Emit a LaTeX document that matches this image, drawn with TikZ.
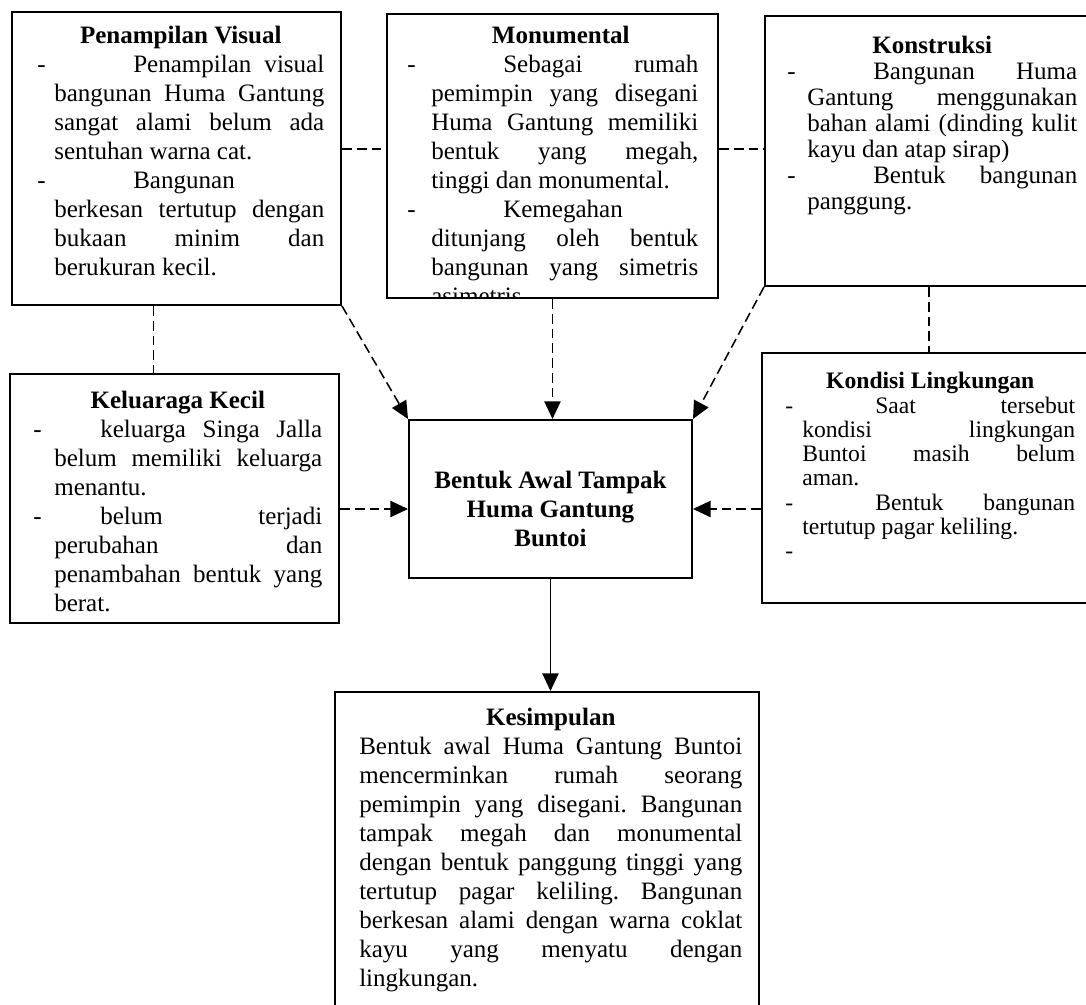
\documentclass[tikz,border=0pt]{standalone}
\usepackage{fontspec}
\setmainfont{Liberation Serif}
\usetikzlibrary{arrows.meta,calc}
\newlength\piks
\setlength\piks{0.025cm}
\tolerance=9999
\hbadness=10000
\hyphenpenalty=10000
\frenchspacing
% judul kotak dan butir berderet
\newcommand{\judul}[1]{{\centering\noindent\textbf{#1}\par}}
\newcommand{\butir}[3]{\par{\leftskip=#1\noindent\llap{\makebox[#1][l]{-}}\hspace*{#2}#3\par}}
\begin{document}
\begin{tikzpicture}[x=0.025cm, y=-0.025cm,
    bingkai/.style={draw, line width=1.4pt, inner sep=0pt, anchor=north west},
    isi/.style={inner sep=0pt, anchor=north west, align=justify,
                font=\fontsize{17.8}{20.6}\selectfont},
    putus/.style={line width=1.1pt, dash pattern=on 7pt off 3.5pt},
    ujung/.style={-{Triangle[length=12.5pt,width=11.5pt]}}]
  \fill[white] (0,0) rectangle (1086,1005);
  \useasboundingbox (0,0) rectangle (1086,1005);

  % bingkai
  \node[bingkai, minimum width=329\piks, minimum height=293\piks] (pv) at (11,11) {};
  \node[bingkai, minimum width=331\piks, minimum height=284\piks] (mon) at (386,13) {};
  \node[bingkai, minimum width=328\piks, minimum height=270\piks] (kon) at (764,15) {};
  \node[bingkai, minimum width=329\piks, minimum height=249\piks] (kel) at (9,373) {};
  \node[bingkai, minimum width=283\piks, minimum height=158\piks] (pusat) at (408,419) {};
  \node[bingkai, minimum width=334\piks, minimum height=250\piks] (kond) at (761,352) {};
  \node[bingkai, minimum width=424\piks, minimum height=350\piks] (kes) at (334,691) {};

  % isi
  \node[isi, text width=287\piks] (pvisi) at (37,26) {\judul{Penampilan Visual}
    \butir{17\piks}{79\piks}{Penampilan visual\linebreak bangunan Huma Gantung\linebreak sangat alami belum ada\linebreak sentuhan warna cat.}
    \butir{17\piks}{79\piks}{Bangunan\newline berkesan tertutup dengan\linebreak bukaan minim dan\linebreak berukuran kecil.}};
  \begin{scope}
    \clip (mon.north west) rectangle (mon.south east);
    \node[isi, text width=291\piks] (monisi) at (407,26) {\judul{\hspace*{16\piks}Monumental}
      \butir{24\piks}{72\piks}{Sebagai rumah\linebreak pemimpin yang disegani\linebreak Huma Gantung memiliki\linebreak bentuk yang megah,\linebreak tinggi dan monumental.}
      \butir{24\piks}{72\piks}{Kemegahan\newline ditunjang oleh bentuk\linebreak bangunan yang simetris\linebreak asimetris}};
  \end{scope}
  \node[isi, text width=290\piks, font=\fontsize{17.8}{18.5}\selectfont] (konisi) at (787,36) {\judul{Konstruksi}
    \butir{20\piks}{66\piks}{Bangunan Huma\linebreak Gantung menggunakan\linebreak bahan alami (dinding kulit\linebreak kayu dan atap sirap)}
    \butir{20\piks}{66\piks}{Bentuk bangunan\linebreak panggung.}};
  \node[isi, text width=289\piks] (kelisi) at (33,391) {\judul{Keluaraga Kecil}
    \butir{21\piks}{46\piks}{keluarga Singa Jalla\linebreak belum memiliki keluarga\linebreak menantu.}
    \butir{21\piks}{46\piks}{belum terjadi\linebreak perubahan dan\linebreak penambahan bentuk yang\linebreak berat.}};
  \node[font=\fontsize{17.8}{20.6}\selectfont\bfseries, align=center, inner sep=0pt] (pusatisi)
    at ($(pusat)+(0,10)$) {Bentuk Awal Tampak\\Huma Gantung\\Buntoi};
  \node[isi, text width=290\piks, font=\fontsize{16.8}{17.3}\selectfont] (kondisi) at (785,372) {\judul{Kondisi Lingkungan}
    \butir{17\piks}{73\piks}{Saat tersebut\linebreak kondisi lingkungan\linebreak Buntoi masih belum\linebreak aman.}
    \butir{17\piks}{73\piks}{Bentuk bangunan\linebreak tertutup pagar keliling.}
    \butir{17\piks}{0pt}{}};
  \node[isi, text width=383\piks] (kesisi) at (359,708) {\judul{Kesimpulan}
    Bentuk awal Huma Gantung Buntoi\linebreak mencerminkan rumah seorang\linebreak pemimpin yang disegani. Bangunan\linebreak tampak megah dan monumental\linebreak dengan bentuk panggung tinggi yang\linebreak tertutup pagar keliling. Bangunan\linebreak berkesan alami dengan warna coklat\linebreak kayu yang menyatu dengan\linebreak lingkungan.\par};

  % penghubung
  \coordinate (h1) at (0,149);
  \coordinate (h2) at (0,509);
  \coordinate (pvbawah) at ($(pv.south)+(-23,0)$);
  \draw[putus] (pv.east |- h1) -- (mon.west |- h1);
  \draw[putus] (mon.east |- h1) -- (kon.west |- h1);
  \draw[putus] (pvbawah) -- (pvbawah |- kel.north);
  \draw[putus] (kon.south) -- (kon.south |- kond.north);
  \draw[putus, ujung] (pv.south east) -- (pusat.north west);
  \draw[putus, ujung] (mon.south) -- (mon.south |- pusat.north);
  \draw[putus, ujung] (kon.south west) -- (pusat.north east);
  \draw[putus, ujung] (kel.east |- h2) -- (pusat.west |- h2);
  \draw[putus, ujung] (kond.west |- h2) -- (pusat.east |- h2);
  \draw[line width=1.1pt, ujung] (pusat.south) -- (pusat.south |- kes.north);
\end{tikzpicture}
\end{document}
